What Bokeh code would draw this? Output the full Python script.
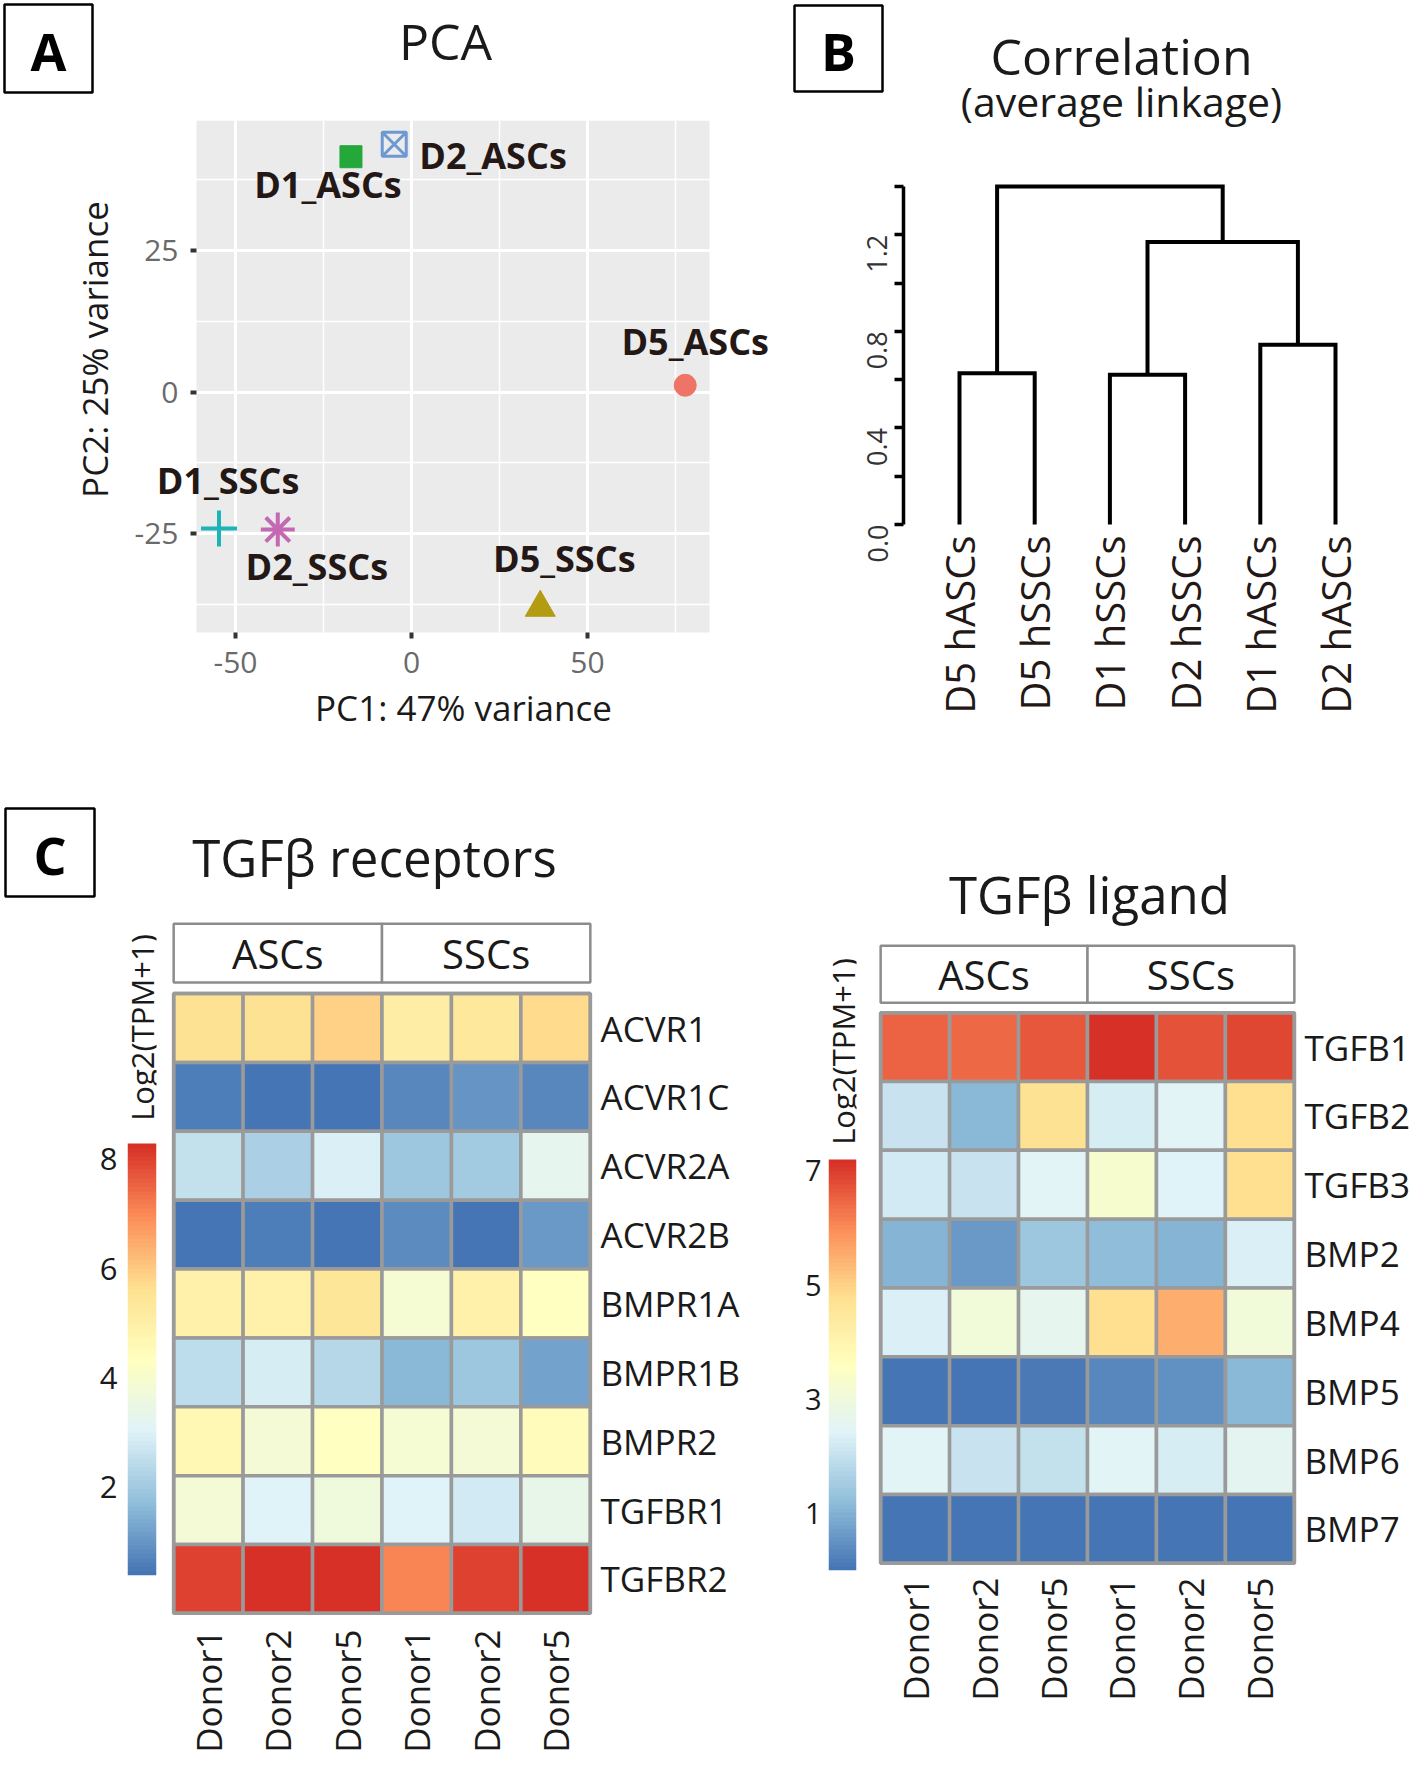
import math
import numpy as np
from bokeh.plotting import figure
from bokeh.models import (ColumnDataSource, Label, FixedTicker, LinearAxis, Range1d,
                          LinearColorMapper)
from bokeh.layouts import row, column
from bokeh.embed import file_html
from bokeh.resources import INLINE
from bokeh.core.properties import value

FONT = "Open Sans"
INK = "#231815"

# ---------------- data ----------------
pca_samples = ["D1_ASCs", "D2_ASCs", "D5_ASCs", "D1_SSCs", "D2_SSCs", "D5_SSCs"]
pc1 = [-17.2, -4.9, 77.8, -54.7, -38.0, 36.6]
pc2 = [41.6, 43.8, 1.2, -24.1, -24.3, -38.1]
pca_panel_x = (-61.1, 84.7)
pca_panel_y = (-42.5, 48.0)
pca_x_ticks = [-50, 0, 50]
pca_x_labels = ["-50", "0", "50"]
pca_x_minor = [-25, 25, 75]
pca_y_ticks = [-25, 0, 25]
pca_y_labels = ["-25", "0", "25"]
pca_y_minor = [-37.5, -12.5, 12.5, 37.5]

dend_leaves = ["D5 hASCs", "D5 hSSCs", "D1 hSSCs", "D2 hSSCs", "D1 hASCs", "D2 hASCs"]
dend_merge = [(-1, -2), (-3, -4), (-5, -6), (2, 3), (1, 4)]
dend_height = [0.627, 0.62, 0.745, 1.17, 1.40]
dend_ticks = [0.0, 0.2, 0.4, 0.6, 0.8, 1.0, 1.2, 1.4]
dend_tick_labels = ["0.0", "", "0.4", "", "0.8", "", "1.2", ""]

groups = ["ASCs", "SSCs"]
donors = ["Donor1", "Donor2", "Donor5", "Donor1", "Donor2", "Donor5"]

receptor_genes = ["ACVR1", "ACVR1C", "ACVR2A", "ACVR2B", "BMPR1A", "BMPR1B", "BMPR2", "TGFBR1", "TGFBR2"]
rec_ASCs_Donor1 = [5.6, 0.6, 2.56, 0.39, 4.9, 2.5, 4.6, 3.85, 8.0]
rec_ASCs_Donor2 = [5.6, 0.42, 2.2, 0.6, 4.95, 2.9, 3.85, 3.05, 8.29]
rec_ASCs_Donor5 = [5.9, 0.42, 2.97, 0.45, 5.4, 2.35, 4.3, 3.7, 8.29]
rec_SSCs_Donor1 = [5.1, 0.75, 1.92, 0.8, 3.9, 1.6, 3.9, 3.0, 7.1]
rec_SSCs_Donor2 = [5.35, 0.95, 1.97, 0.42, 4.9, 1.95, 3.85, 2.8, 8.0]
rec_SSCs_Donor5 = [5.75, 0.75, 3.24, 1.03, 4.3, 1.2, 4.45, 3.35, 8.29]
rec_ticks = [2, 4, 6, 8]
rec_low, rec_high = 0.39, 8.29

ligand_genes = ["TGFB1", "TGFB2", "TGFB3", "BMP2", "BMP4", "BMP5", "BMP6", "BMP7"]
lig_ASCs_Donor1 = [6.5, 2.07, 2.2, 1.07, 2.35, 0.05, 2.45, 0.02]
lig_ASCs_Donor2 = [6.45, 1.15, 2.07, 0.61, 3.05, 0.0, 2.05, 0.03]
lig_ASCs_Donor5 = [6.66, 4.75, 2.45, 1.37, 2.6, 0.12, 2.0, 0.02]
lig_SSCs_Donor1 = [7.2, 2.24, 3.3, 1.22, 4.8, 0.3, 2.5, 0.02]
lig_SSCs_Donor2 = [6.7, 2.45, 2.42, 1.07, 5.5, 0.5, 2.3, 0.01]
lig_SSCs_Donor5 = [6.85, 4.8, 4.8, 2.35, 3.05, 1.08, 2.55, 0.03]
lig_ticks = [1, 3, 5, 7]
lig_low, lig_high = 0.0, 7.2

# pheatmap default palette: rev(RdYlBu 7) ramped to 100
base_colors = ["#4575B4", "#91BFDB", "#E0F3F8", "#FFFFBF", "#FEE090", "#FC8D59", "#D73027"]


def ramp(colors, n):
    rgb = np.array([[int(c[i:i + 2], 16) for i in (1, 3, 5)] for c in colors], float)
    pos = np.linspace(0, 1, len(colors))
    out = []
    for tt in np.linspace(0, 1, n):
        r = np.interp(tt, pos, rgb[:, 0]); g = np.interp(tt, pos, rgb[:, 1]); b = np.interp(tt, pos, rgb[:, 2])
        out.append("#%02x%02x%02x" % (int(round(r)), int(round(g)), int(round(b))))
    return out


palette = ramp(base_colors, 100)


def base_fig(**kw):
    p = figure(output_backend="svg", toolbar_location=None, **kw)
    p.outline_line_color = None
    p.border_fill_color = "white"
    return p


def header_fig(x0, x1, y0, y1):
    p = base_fig(frame_width=x1 - x0, frame_height=y1 - y0, min_border=0,
                 x_range=Range1d(x0, x1), y_range=Range1d(-y1, -y0),
                 x_axis_location=None, y_axis_location=None)
    p.grid.visible = False
    p.background_fill_color = "white"
    return p


def box_letter(p, letter, l, t, r, b, size="52px"):
    p.quad(left=[l], right=[r], top=[-t], bottom=[-b], fill_color=None,
           line_color="black", line_width=2.5)
    p.text(x=[(l + r) / 2], y=[-(t + b) / 2 - 2], text=[letter], text_align="center",
           text_baseline="middle", text_font=value(FONT), text_font_style="bold",
           text_font_size=value(size), text_color="black")


def title_text(p, txt, cx, cy, size):
    p.text(x=[cx], y=[-cy], text=[txt], text_align="center", text_baseline="middle",
           text_font=value(FONT), text_font_size=value(size), text_color="#1a1a1a")


# ---------------- Panel A ----------------
headA = header_fig(0, 790, 0, 108)
box_letter(headA, "A", 4, 4, 92, 92)
title_text(headA, "PCA", 445, 40, "50px")

# grey panel spans px 196..709 x 120..632 ; the frame spans the whole canvas below
# the header so that nothing (point labels, fixed axes) is clipped
PANEL_L, PANEL_R, PANEL_T, PANEL_B = 196, 709, 120, 632
FRAME_L, FRAME_R, FRAME_T, FRAME_B = 0, 788, 120, 745
ppx = (PANEL_R - PANEL_L) / (pca_panel_x[1] - pca_panel_x[0])
ppy = (PANEL_B - PANEL_T) / (pca_panel_y[1] - pca_panel_y[0])
x0_A = pca_panel_x[0] - (PANEL_L - FRAME_L) / ppx
x1_A = x0_A + (FRAME_R - FRAME_L) / ppx
y1_A = pca_panel_y[1] + (PANEL_T - FRAME_T) / ppy
y0_A = y1_A - (FRAME_B - FRAME_T) / ppy
pca = base_fig(frame_width=FRAME_R - FRAME_L, frame_height=FRAME_B - FRAME_T,
               min_border_left=FRAME_L, min_border_right=790 - FRAME_R,
               min_border_top=FRAME_T - 108, min_border_bottom=745 - FRAME_B,
               x_range=Range1d(x0_A, x1_A), y_range=Range1d(y0_A, y1_A))
pca.background_fill_color = "white"
panel = pca.quad(left=[pca_panel_x[0]], right=[pca_panel_x[1]], bottom=[pca_panel_y[0]],
                 top=[pca_panel_y[1]], fill_color="#EBEBEB", line_color=None)
panel.level = "image"
xt = FixedTicker(ticks=pca_x_ticks, minor_ticks=pca_x_minor)
yt = FixedTicker(ticks=pca_y_ticks, minor_ticks=pca_y_minor)
pca.xaxis.ticker = xt
pca.yaxis.ticker = yt
pca.xgrid.ticker = xt
pca.ygrid.ticker = yt
pca.xaxis.major_label_overrides = dict(zip(pca_x_ticks, pca_x_labels))
pca.yaxis.major_label_overrides = dict(zip(pca_y_ticks, pca_y_labels))
pca.yaxis.fixed_location = pca_panel_x[0]
pca.xaxis.fixed_location = pca_panel_y[0]
# axis-title centring (the titles are centred on the axis bounds)
pca.xaxis.bounds = (pca_panel_x[0], pca_panel_x[0] + (730 - PANEL_L) / ppx)
pca.yaxis.bounds = (pca_panel_y[1] - (578 - PANEL_T) / ppy, pca_panel_y[1])
for g in (pca.xgrid, pca.ygrid):
    g.grid_line_color = "white"
    g.grid_line_width = 3
    g.minor_grid_line_color = "white"
    g.minor_grid_line_width = 1.5
pca.xgrid.bounds = pca_panel_x
pca.ygrid.bounds = pca_panel_y
for ax in (pca.xaxis, pca.yaxis):
    ax.axis_line_color = None
    ax.major_tick_line_color = "#333333"
    ax.major_tick_line_width = 4
    ax.major_tick_out = 6
    ax.major_tick_in = 0
    ax.minor_tick_line_color = None
    ax.major_label_text_font = FONT
    ax.major_label_text_font_size = "30px"
    ax.major_label_text_color = "#6a6a6a"
    ax.axis_label_text_font = FONT
    ax.axis_label_text_font_size = "35px"
    ax.axis_label_text_font_style = "normal"
    ax.axis_label_text_color = "#1a1a1a"
pca.xaxis.axis_label = "PC1: 47% variance"
pca.yaxis.axis_label = "PC2: 25% variance"
pca.xaxis.major_label_standoff = 13
pca.yaxis.major_label_standoff = 12
pca.xaxis.axis_label_standoff = 8
pca.yaxis.axis_label_standoff = 14

marker_kind = ["square", "square_x", "circle", "cross", "asterisk", "triangle"]
marker_color = ["#25A83A", "#6E98D2", "#EF7468", "#1DB4B8", "#C468B3", "#B39C12"]
marker_size = [22, 24, 22, 36, 34, 30]
marker_lw = [1, 3, 1, 4, 4, 1]
marker_fa = [1, 0, 1, 1, 1, 1]
src = ColumnDataSource(dict(x=pc1, y=pc2, marker=marker_kind, color=marker_color,
                            size=marker_size, lw=marker_lw, fa=marker_fa))
pca.scatter(x="x", y="y", marker="marker", size="size", fill_color="color",
            line_color="color", line_width="lw", fill_alpha="fa", source=src)

lab_dx = [-23, 25, 10, 9, 39, 24]      # pixel offsets of the text from its point
lab_dy = [28, 11, -44, -48, 37, -49]   # (down is positive)
lab_align = ["center", "left", "center", "center", "center", "center"]
for name, x, y, dx, dy, al in zip(pca_samples, pc1, pc2, lab_dx, lab_dy, lab_align):
    pca.add_layout(Label(x=x + dx / ppx, y=y - dy / ppy, text=name, text_align=al,
                         text_baseline="middle", text_font=FONT, text_font_style="bold",
                         text_font_size="36px", text_color=INK))

# ---------------- Panel B ----------------
headB = header_fig(790, 1418, 0, 158)
box_letter(headB, "B", 794, 5, 882, 91)
title_text(headB, "Correlation", 1121, 55, "50px")
title_text(headB, "(average linkage)", 1121, 100, "41px")

leaf_px = 75.2
unit_px = 241.4
FW_B, FH_B = 477, 346
xr_B = (1 - 56 / leaf_px, 1 - 56 / leaf_px + FW_B / leaf_px)
yr_B = (-3 / unit_px, -3 / unit_px + FH_B / unit_px)
dend = base_fig(frame_width=FW_B, frame_height=FH_B, min_border_left=113, min_border_right=38,
                min_border_top=23, min_border_bottom=218,
                x_range=Range1d(*xr_B), y_range=Range1d(*yr_B), x_axis_location=None)
dend.grid.visible = False
nodes = []
xs_list, ys_list = [], []
for (a, b), h in zip(dend_merge, dend_height):
    def node(k):
        return (float(-k), 0.0) if k < 0 else nodes[k - 1]
    (xa, ha), (xb, hb) = node(a), node(b)
    xs_list.append([xa, xa, xb, xb])
    ys_list.append([ha, h, h, hb])
    nodes.append(((xa + xb) / 2, h))
dend.multi_line(xs=xs_list, ys=ys_list, line_color="black", line_width=4, line_join="miter")

ya = dend.yaxis[0]
ya.ticker = FixedTicker(ticks=dend_ticks, minor_ticks=[])
ya.major_label_overrides = {t: s for t, s in zip(dend_ticks, dend_tick_labels)}
ya.bounds = (0, 1.4)
ya.axis_line_width = 3.5
ya.axis_line_color = "black"
ya.major_tick_line_width = 3.5
ya.major_tick_out = 9
ya.major_tick_in = 0
ya.minor_tick_line_color = None
ya.major_label_orientation = math.pi / 2
ya.major_label_text_font = FONT
ya.major_label_text_font_size = "27px"
ya.major_label_text_color = "#333333"
ya.major_label_standoff = 17

leaf_ax = LinearAxis(ticker=FixedTicker(ticks=list(range(1, len(dend_leaves) + 1)), minor_ticks=[]),
                     major_label_overrides={i + 1: n for i, n in enumerate(dend_leaves)})
leaf_ax.axis_line_color = None
leaf_ax.major_tick_line_color = None
leaf_ax.minor_tick_line_color = None
leaf_ax.major_label_orientation = math.pi / 2
leaf_ax.major_label_text_font = FONT
leaf_ax.major_label_text_font_size = "40px"
leaf_ax.major_label_text_color = INK
leaf_ax.major_label_standoff = 2
dend.add_layout(leaf_ax, "below")


# ---------------- Panel C ----------------
def heatmap(genes, columns, lo, hi, cell_left, cell_top, cw, ch, canvas_left, canvas_top,
            canvas_w, canvas_h, gap_px, hdr_px, row_font, col_standoff):
    m = 0.06
    n = len(genes)
    hdr_b = n + gap_px / ch
    hdr_t = n + (gap_px + hdr_px) / ch
    fw = int(round((6 + 2 * m) * cw))
    fh = int(round((hdr_t + 2 * m) * ch))
    frame_left = cell_left - m * cw
    frame_top = cell_top - (hdr_t - n + m) * ch
    mbl = int(round(frame_left - canvas_left))
    mbt = int(round(frame_top - canvas_top))
    mbr = canvas_w - mbl - fw
    mbb = canvas_h - mbt - fh
    p = base_fig(frame_width=fw, frame_height=fh, min_border_left=mbl, min_border_right=mbr,
                 min_border_top=mbt, min_border_bottom=mbb,
                 x_range=Range1d(-m, 6 + m), y_range=Range1d(-m, hdr_t + m),
                 x_axis_location=None, y_axis_location=None)
    p.grid.visible = False
    p.background_fill_color = "white"
    mapper = LinearColorMapper(palette=palette, low=lo, high=hi)
    xs, ys, vs = [], [], []
    for c, col in enumerate(columns):
        for r, v in enumerate(col):
            xs.append(c + 0.5)
            ys.append(n - r - 0.5)
            vs.append(v)
    s = ColumnDataSource(dict(x=xs, y=ys, v=vs))
    p.rect(x="x", y="y", width=1, height=1, source=s,
           fill_color={"field": "v", "transform": mapper},
           line_color="#9A9A9A", line_width=3.5)
    p.quad(left=[0], right=[6], bottom=[0], top=[n], fill_color=None,
           line_color="#9A9A9A", line_width=3.5)
    hc = (hdr_b + hdr_t) / 2
    p.rect(x=[1.5, 4.5], y=[hc, hc], width=3, height=hdr_t - hdr_b, fill_color="white",
           line_color="#8C8C8C", line_width=2.5)
    p.text(x=[1.5, 4.5], y=[hc, hc], text=groups, text_align="center", text_baseline="middle",
           text_font=value(FONT), text_font_size=value("40px"), text_color="#1a1a1a")
    rax = LinearAxis(ticker=FixedTicker(ticks=[n - r - 0.5 for r in range(n)], minor_ticks=[]),
                     major_label_overrides={n - r - 0.5: g for r, g in enumerate(genes)})
    bax = LinearAxis(ticker=FixedTicker(ticks=[c + 0.5 for c in range(6)], minor_ticks=[]),
                     major_label_overrides={c + 0.5: d for c, d in enumerate(donors)})
    for ax in (rax, bax):
        ax.axis_line_color = None
        ax.major_tick_line_color = None
        ax.minor_tick_line_color = None
        ax.major_label_text_font = FONT
        ax.major_label_text_color = "#1a1a1a"
    rax.major_label_text_font_size = row_font
    rax.major_label_standoff = 0
    bax.major_label_text_font_size = "35px"
    bax.major_label_orientation = math.pi / 2
    bax.major_label_standoff = col_standoff
    p.add_layout(rax, "right")
    p.add_layout(bax, "below")
    return p, mapper, canvas_top + mbt


def colorbar(mapper, lo, hi, ticks, canvas_left, canvas_top, canvas_w, canvas_h,
             bar_left, bar_right, bar_top, bar_bottom, frame_top, label_cy, font, standoff):
    fw = bar_right - bar_left
    fh = bar_bottom - frame_top
    ppu = (bar_bottom - bar_top) / (hi - lo)
    mbl = bar_left - canvas_left
    mbt = frame_top - canvas_top
    p = base_fig(frame_width=fw, frame_height=fh, min_border_left=mbl,
                 min_border_right=canvas_w - mbl - fw, min_border_top=mbt,
                 min_border_bottom=canvas_h - mbt - fh,
                 x_range=Range1d(0, 1), y_range=Range1d(lo, lo + fh / ppu),
                 x_axis_location=None)
    p.grid.visible = False
    p.background_fill_color = "white"
    grad = np.linspace(lo, hi, 300).reshape(-1, 1)
    p.image(image=[grad], x=0, y=lo, dw=1, dh=hi - lo, color_mapper=mapper)
    ax = p.yaxis[0]
    ax.ticker = FixedTicker(ticks=ticks, minor_ticks=[])
    ax.axis_line_color = None
    ax.major_tick_line_color = None
    ax.minor_tick_line_color = None
    ax.major_label_text_font = FONT
    ax.major_label_text_font_size = font
    ax.major_label_text_color = "#1a1a1a"
    ax.major_label_standoff = standoff
    p.add_layout(Label(x=0.5, y=lo + (bar_bottom - label_cy) / ppu, text="Log2(TPM+1)",
                       angle=math.pi / 2, text_align="center", text_baseline="middle",
                       text_font=FONT, text_font_size="31px", text_color="#1a1a1a"))
    return p


headC = header_fig(0, 770, 745, 915)
box_letter(headC, "C", 5, 808, 94, 896)
title_text(headC, "TGFβ receptors", 374, 856, "51px")

rec_cols = [rec_ASCs_Donor1, rec_ASCs_Donor2, rec_ASCs_Donor5,
            rec_SSCs_Donor1, rec_SSCs_Donor2, rec_SSCs_Donor5]
heatL, mapL, topL = heatmap(receptor_genes, rec_cols, rec_low, rec_high,
                            cell_left=173, cell_top=993, cw=69.5, ch=68.9,
                            canvas_left=165, canvas_top=915, canvas_w=605, canvas_h=850,
                            gap_px=11, hdr_px=59, row_font="35px", col_standoff=6)
cbarL = colorbar(mapL, rec_low, rec_high, rec_ticks, 0, 915, 165, 850,
                 127, 156, 1143, 1575, topL, 1027, "31px", 4)

headD = header_fig(770, 1418, 745, 930)
title_text(headD, "TGFβ ligand", 1089, 893, "51px")

lig_cols = [lig_ASCs_Donor1, lig_ASCs_Donor2, lig_ASCs_Donor5,
            lig_SSCs_Donor1, lig_SSCs_Donor2, lig_SSCs_Donor5]
heatR, mapR, topR = heatmap(ligand_genes, lig_cols, lig_low, lig_high,
                            cell_left=880.5, cell_top=1012, cw=69.0, ch=68.84,
                            canvas_left=866, canvas_top=930, canvas_w=552, canvas_h=835,
                            gap_px=10, hdr_px=57, row_font="35px", col_standoff=4)
cbarR = colorbar(mapR, lig_low, lig_high, lig_ticks, 770, 930, 96, 835,
                 828, 856, 1159, 1570, topR, 1051, "29px", 1)

top = row(column(row(headA), pca), column(row(headB), dend))
bottom = row(column(row(headC), row(column(cbarL), column(heatL))),
             column(row(headD), row(column(cbarR), column(heatR))))
page = column(top, bottom)

with open("out.html", "w") as f:
    f.write(file_html(page, INLINE, title="TGFb figure"))
